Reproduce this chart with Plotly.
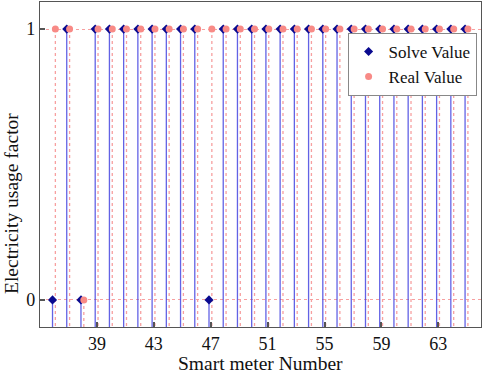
import plotly.graph_objects as go

meters = list(range(36, 66))
solve_values = [0, 1, 0, 1, 1, 1, 1, 1, 1, 1, 1, 0, 1, 1, 1, 1, 1, 1, 1, 1,
                1, 1, 1, 1, 1, 1, 1, 1, 1, 1]
real_values = [1, 1, 0, 1, 1, 1, 1, 1, 1, 1, 1, 1, 1, 1, 1, 1, 1, 1, 1, 1,
               1, 1, 1, 1, 1, 1, 1, 1, 1, 1]
x_ticks = [39, 43, 47, 51, 55, 59, 63]
y_ticks = [0, 1]

Y_MIN, Y_MAX = -0.1, 1.1
X_MIN, X_MAX = 35, 66
SOLVE_OFF, REAL_OFF = -0.12, 0.08

FONT = "Liberation Serif, Times New Roman, serif"

def stems(xs, ys, off):
    sx, sy = [], []
    for x, y in zip(xs, ys):
        sx += [x + off, x + off, None]
        sy += [y, Y_MIN, None]
    return sx, sy

fig = go.Figure()

sx, sy = stems(meters, solve_values, SOLVE_OFF)
fig.add_trace(go.Scatter(x=sx, y=sy, mode="lines", showlegend=False, hoverinfo="skip",
                         line=dict(color="rgba(70,70,225,0.85)", width=1.3)))
rx, ry = stems(meters, real_values, REAL_OFF)
fig.add_trace(go.Scatter(x=rx, y=ry, mode="lines", showlegend=False, hoverinfo="skip",
                         line=dict(color="#f7a0a0", width=1.3, dash="dot")))

fig.add_trace(go.Scatter(x=[m + SOLVE_OFF for m in meters], y=solve_values, mode="markers",
                         name="Solve Value",
                         marker=dict(symbol="diamond", size=7, color="#0a0a8f")))
fig.add_trace(go.Scatter(x=[m + REAL_OFF for m in meters], y=real_values, mode="markers",
                         name="Real Value",
                         marker=dict(symbol="circle", size=7, color="#f88a86")))

axis_common = dict(showline=True, mirror=True, linecolor="#555555", linewidth=1.3,
                   ticks="inside", ticklen=5, tickwidth=1.5, tickcolor="#555555",
                   zeroline=False,
                   tickfont=dict(family=FONT, size=18, color="#111111"))

fig.update_xaxes(range=[X_MIN, X_MAX], tickvals=x_ticks, showgrid=False, **axis_common)
fig.update_yaxes(range=[Y_MIN, Y_MAX], tickvals=y_ticks, showgrid=True,
                 gridcolor="#f7a0a0", griddash="dot", gridwidth=1.2, **axis_common)

fig.update_layout(
    width=484, height=374,
    margin=dict(l=40, r=3, t=2, b=47),
    plot_bgcolor="white", paper_bgcolor="white",
    font=dict(family=FONT, color="#111111"),
    legend=dict(x=0.99, y=0.905, xanchor="right", yanchor="top",
                bordercolor="#888888", borderwidth=1, bgcolor="white",
                font=dict(family=FONT, size=17, color="#111111"),
                tracegroupgap=0, itemwidth=30),
    annotations=[
        dict(text="Smart meter Number", xref="paper", yref="paper", x=0.5, y=0,
             yshift=-24, xanchor="center", yanchor="top", showarrow=False,
             font=dict(family=FONT, size=19.5, color="#111111")),
        dict(text="Electricity usage factor", xref="paper", yref="paper", x=0, y=0.38,
             xshift=-16, xanchor="right", yanchor="middle", textangle=-90, showarrow=False,
             font=dict(family=FONT, size=19.5, color="#111111")),
    ],
)

fig.write_html("out.html", post_script="document.body.style.margin='0px';",
               config={"displayModeBar": False})
